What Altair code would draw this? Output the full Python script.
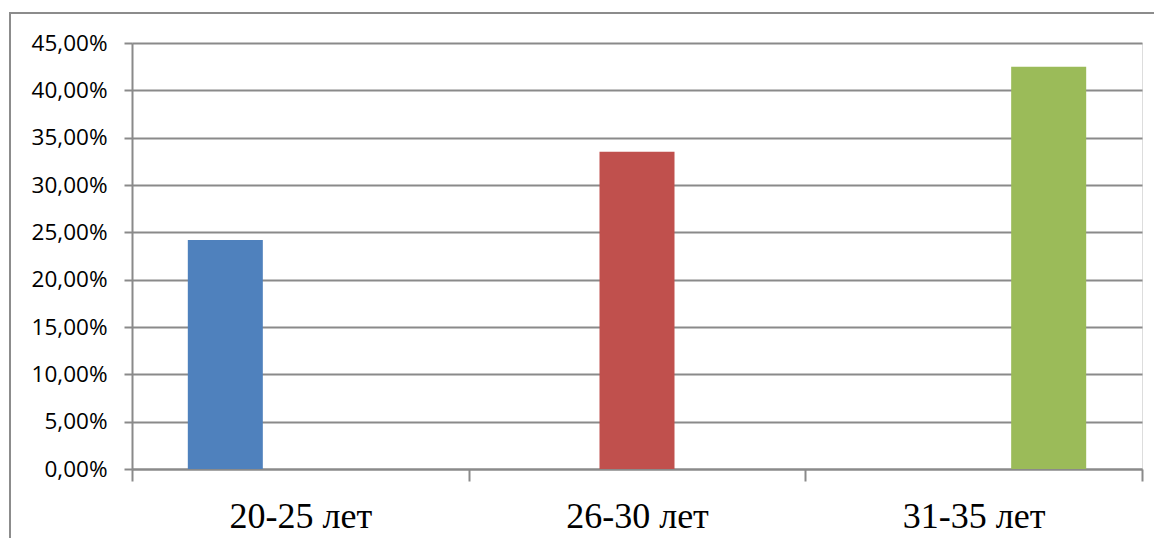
import altair as alt
import pandas as pd

categories = ["20-25 лет", "26-30 лет", "31-35 лет"]
series = ["s1", "s2", "s3"]
values = [0.242, 0.335, 0.425]
colors = ["#4F81BD", "#C0504D", "#9BBB59"]
y_ticks = [0, 0.05, 0.10, 0.15, 0.20, 0.25, 0.30, 0.35, 0.40, 0.45]

df = pd.DataFrame({"cat": categories, "ser": series, "val": values})

W, H = 1010, 426
GRID = "#8a8a8a"

bars = alt.Chart(df).mark_bar().encode(
    x=alt.X("cat:N", sort=categories, title=None,
            scale=alt.Scale(paddingInner=0, paddingOuter=0),
            axis=alt.Axis(labelFont="Liberation Serif", labelFontSize=36,
                          labelColor="#000000", labelAngle=0,
                          labelBaseline="alphabetic", labelPadding=46,
                          tickBand="extent", tickSize=12, tickColor=GRID,
                          tickWidth=2, domainColor=GRID, domainWidth=2,
                          grid=False)),
    xOffset=alt.XOffset("ser:N", sort=series,
                        scale=alt.Scale(paddingInner=0, paddingOuter=0.744)),
    y=alt.Y("val:Q", title=None,
            scale=alt.Scale(domain=[0, 0.45], nice=False),
            axis=alt.Axis(values=y_ticks,
                          labelExpr="replace(format(datum.value, '.2%'), '.', ',')",
                          labelFont="Open Sans", labelFontSize=22.5,
                          labelColor="#000000", labelPadding=17,
                          tickSize=8, tickColor=GRID, tickWidth=2,
                          domainColor=GRID, domainWidth=2,
                          grid=True, gridColor=GRID, gridWidth=2)),
    color=alt.Color("ser:N", sort=series,
                    scale=alt.Scale(domain=series, range=colors), legend=None),
)

border = alt.Chart(pd.DataFrame({"a": [0]})).mark_rect(
    fill=None, stroke="#8c8c8c", strokeWidth=2, clip=False
).encode(
    x=alt.value(-122), x2=alt.value(W + 200),
    y=alt.value(-30), y2=alt.value(H + 200),
)

chart = alt.layer(bars, border).properties(
    width=W, height=H,
    autosize=alt.AutoSizeParams(type="none"),
    padding={"left": 124, "top": 35, "right": 12, "bottom": 69},
).configure_view(stroke=None).configure(background="white")

chart.save("out.html", embed_options={"renderer": "svg", "actions": False})
